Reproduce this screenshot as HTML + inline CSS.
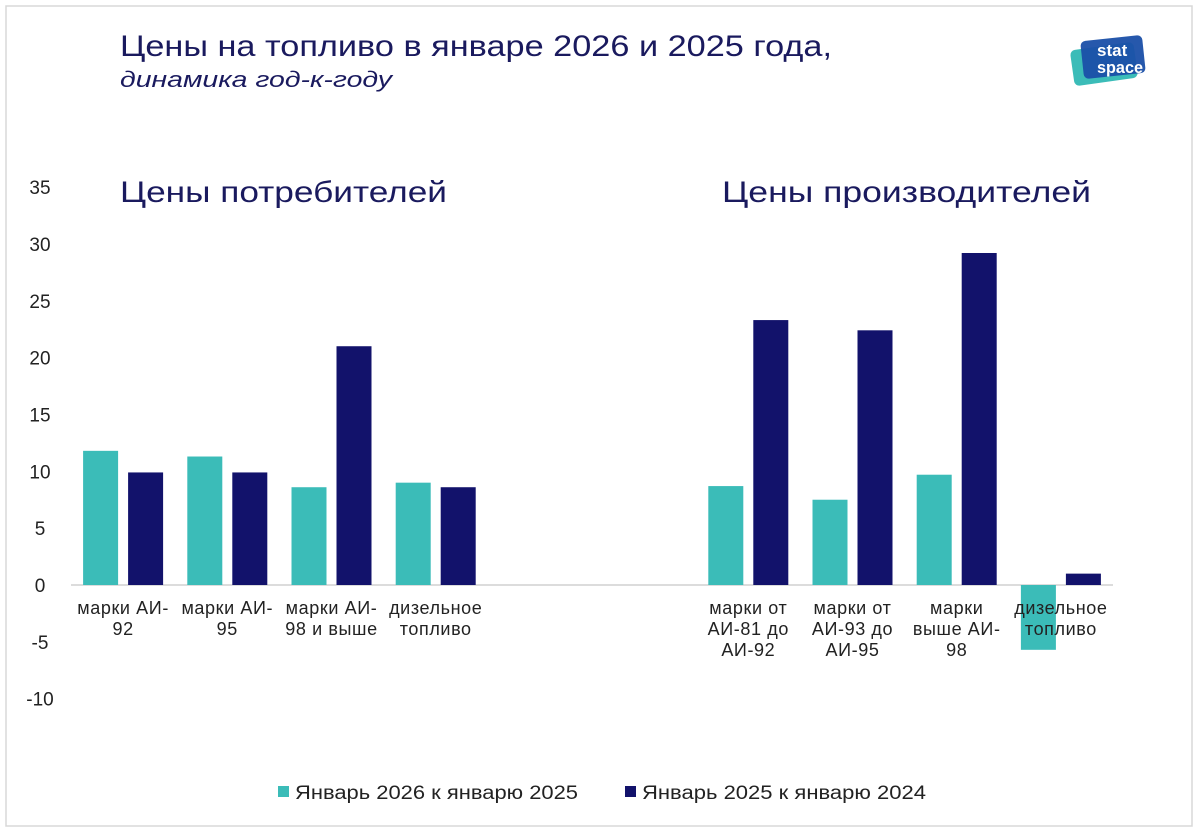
<!DOCTYPE html>
<html><head><meta charset="utf-8"><style>
body{margin:0;background:#fff;font-family:"Liberation Sans",sans-serif;}
#wrap{position:relative;width:1200px;height:833px;}
</style></head><body>
<div id="wrap">
<svg id="chart" width="1200" height="833">
<rect x="6" y="6" width="1186" height="820" fill="#fff" stroke="#d8d8d8" stroke-width="1.5"/>
<text x="120" y="56" font-size="30" fill="#1a1a5e" textLength="712" lengthAdjust="spacingAndGlyphs">Цены на топливо в январе 2026 и 2025 года,</text>
<text x="120" y="87" font-size="22" font-style="italic" fill="#1a1a5e" textLength="272" lengthAdjust="spacingAndGlyphs">динамика год-к-году</text>
<text x="120" y="202" font-size="30" fill="#1a1a5e" textLength="327" lengthAdjust="spacingAndGlyphs">Цены потребителей</text>
<text x="722" y="202" font-size="30" fill="#1a1a5e" textLength="369" lengthAdjust="spacingAndGlyphs">Цены производителей</text>
<g>
<rect x="1072" y="46" width="64" height="36" rx="5" fill="#3bbcb8" transform="rotate(-8 1104 64)"/>
<rect x="1082" y="38" width="62" height="38" rx="5" fill="#1a4fa8" opacity="0.95" transform="rotate(-6 1113 57)"/>
<text x="1097" y="56" font-size="17" font-weight="bold" fill="#fff">stat</text>
<text x="1097" y="73" font-size="17" font-weight="bold" fill="#fff" textLength="46" lengthAdjust="spacingAndGlyphs">space</text>
</g>
<g id="yaxis"></g><g id="bars"></g><g id="xlabels"></g>
<g>
<rect x="278" y="786" width="11" height="11" fill="#3bbcb8"/>
<text x="295" y="799" font-size="19" fill="#222" textLength="283" lengthAdjust="spacingAndGlyphs">Январь 2026 к январю 2025</text>
<rect x="625" y="786" width="11" height="11" fill="#12126b"/>
<text x="642" y="799" font-size="19" fill="#222" textLength="284" lengthAdjust="spacingAndGlyphs">Январь 2025 к январю 2024</text>
</g>
</svg>
</div>
<script>
const categories=[["марки АИ-","92"],["марки АИ-","95"],["марки АИ-","98 и выше"],["дизельное","топливо"],null,null,["марки от","АИ-81 до","АИ-92"],["марки от","АИ-93 до","АИ-95"],["марки","выше АИ-","98"],["дизельное","топливо"]];
const series2026=[11.8,11.3,8.6,9.0,null,null,8.7,7.5,9.7,-5.7];
const series2025=[9.9,9.9,21.0,8.6,null,null,23.3,22.4,29.2,1.0];
const yTicks=[35,30,25,20,15,10,5,0,-5,-10];
const NS="http://www.w3.org/2000/svg";
const x0=71,x1=1113,zeroY=585,pxPer=11.37;
const slot=(x1-x0)/categories.length;
const y=v=>zeroY-v*pxPer;
function mk(t,a,p){const e=document.createElementNS(NS,t);for(const k in a)e.setAttribute(k,a[k]);p.appendChild(e);return e;}
const ya=document.getElementById('yaxis');
yTicks.forEach(t=>{const e=mk('text',{x:40,y:y(t)+7,'font-size':19,fill:'#222','text-anchor':'middle'},ya);e.textContent=t;

});
const ax=mk('line',{x1:x0,x2:x1,y1:zeroY,y2:zeroY,stroke:'#d0d0d0','stroke-width':1.5},ya);


const bg=document.getElementById('bars'),xl=document.getElementById('xlabels');
categories.forEach((c,i)=>{
 if(!c)return;
 const cx=x0+slot*i+slot/2,bw=35,gap=10;
 [[series2026[i],'#3bbcb8',cx-gap/2-bw,'bar-2026'],[series2025[i],'#12126b',cx+gap/2,'bar-2025']].forEach(([v,col,bx,nm])=>{
  const r=mk('rect',{x:bx,y:Math.min(y(v),zeroY),width:bw,height:Math.abs(y(v)-zeroY),fill:col},bg);
  
  
 });
 c.forEach((ln,j)=>{const t=mk('text',{x:cx,y:614+j*21,'font-size':18,fill:'#222','text-anchor':'middle','letter-spacing':0.6},xl);t.textContent=ln;
 
 });
});
</script>
</body></html>
